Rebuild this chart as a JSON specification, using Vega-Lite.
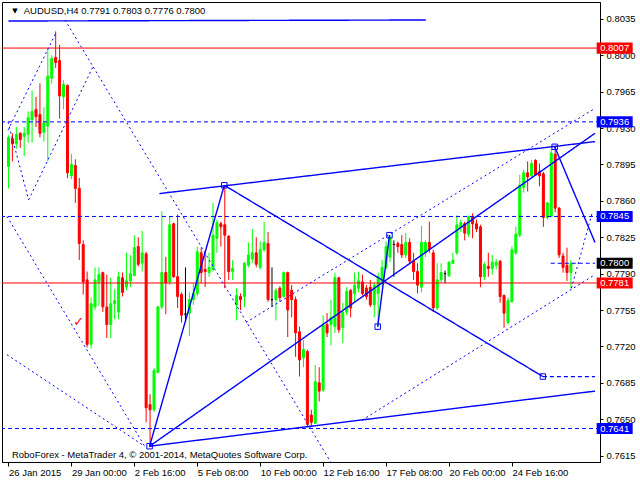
{
"$schema":"https://vega.github.io/schema/vega-lite/v6.json",
"width":598,"height":460,
"autosize":{"type":"none"},
"padding":{"left":2,"top":2,"right":40,"bottom":18},
"background":"#FFFFFF",
"config":{"view":{"stroke":"#000000","strokeWidth":1},"font":"Liberation Sans"},
"resolve":{"axis":{"x":"independent","y":"independent"}},
"datasets":{
"candles":[
{"i":0,"o":0.7893,"h":0.7923,"l":0.7872,"c":0.7921},
{"i":1,"o":0.7920,"h":0.7925,"l":0.7898,"c":0.7915},
{"i":2,"o":0.7915,"h":0.7931,"l":0.7910,"c":0.7924},
{"i":3,"o":0.7925,"h":0.7926,"l":0.7911,"c":0.7919},
{"i":4,"o":0.7922,"h":0.7931,"l":0.7903,"c":0.7925},
{"i":5,"o":0.7924,"h":0.7946,"l":0.7916,"c":0.7940},
{"i":6,"o":0.7938,"h":0.7966,"l":0.7916,"c":0.7946},
{"i":7,"o":0.7948,"h":0.7960,"l":0.7931,"c":0.7941},
{"i":8,"o":0.7943,"h":0.7973,"l":0.7921,"c":0.7925},
{"i":9,"o":0.7926,"h":0.7950,"l":0.7917,"c":0.7935},
{"i":10,"o":0.7932,"h":0.8007,"l":0.7898,"c":0.7980},
{"i":11,"o":0.7978,"h":0.8000,"l":0.7973,"c":0.7997},
{"i":12,"o":0.7998,"h":0.8023,"l":0.7988,"c":0.7993},
{"i":13,"o":0.7995,"h":0.8010,"l":0.7939,"c":0.7961},
{"i":14,"o":0.7960,"h":0.7976,"l":0.7948,"c":0.7972},
{"i":15,"o":0.7971,"h":0.7972,"l":0.7882,"c":0.7887},
{"i":16,"o":0.7884,"h":0.7905,"l":0.7881,"c":0.7895},
{"i":17,"o":0.7894,"h":0.7900,"l":0.7858,"c":0.7872},
{"i":18,"o":0.7872,"h":0.7882,"l":0.7803,"c":0.7819},
{"i":19,"o":0.7818,"h":0.7822,"l":0.7770,"c":0.7782},
{"i":20,"o":0.7784,"h":0.7792,"l":0.7719,"c":0.7722},
{"i":21,"o":0.7722,"h":0.7767,"l":0.7718,"c":0.7761},
{"i":22,"o":0.7758,"h":0.7796,"l":0.7755,"c":0.7784},
{"i":23,"o":0.7782,"h":0.7796,"l":0.7759,"c":0.7789},
{"i":24,"o":0.7791,"h":0.7792,"l":0.7753,"c":0.7758},
{"i":25,"o":0.7758,"h":0.7789,"l":0.7728,"c":0.7741},
{"i":26,"o":0.7741,"h":0.7786,"l":0.7728,"c":0.7761},
{"i":27,"o":0.7761,"h":0.7775,"l":0.7746,"c":0.7764},
{"i":28,"o":0.7753,"h":0.7792,"l":0.7746,"c":0.7787},
{"i":29,"o":0.7786,"h":0.7791,"l":0.7768,"c":0.7772},
{"i":30,"o":0.7777,"h":0.7810,"l":0.7774,"c":0.7783},
{"i":31,"o":0.7783,"h":0.7808,"l":0.7777,"c":0.7790},
{"i":32,"o":0.7788,"h":0.7827,"l":0.7788,"c":0.7815},
{"i":33,"o":0.7816,"h":0.7825,"l":0.7797,"c":0.7799},
{"i":34,"o":0.7800,"h":0.7831,"l":0.7792,"c":0.7810},
{"i":35,"o":0.7809,"h":0.7811,"l":0.7647,"c":0.7661},
{"i":36,"o":0.7664,"h":0.7674,"l":0.7623,"c":0.7659},
{"i":37,"o":0.7659,"h":0.7699,"l":0.7657,"c":0.7697},
{"i":38,"o":0.7695,"h":0.7759,"l":0.7694,"c":0.7758},
{"i":39,"o":0.7758,"h":0.7850,"l":0.7756,"c":0.7791},
{"i":40,"o":0.7791,"h":0.7806,"l":0.7751,"c":0.7781},
{"i":41,"o":0.7782,"h":0.7845,"l":0.7779,"c":0.7837},
{"i":42,"o":0.7838,"h":0.7839,"l":0.7786,"c":0.7787},
{"i":43,"o":0.7787,"h":0.7847,"l":0.7757,"c":0.7768},
{"i":44,"o":0.7770,"h":0.7772,"l":0.7743,"c":0.7750},
{"i":45,"o":0.7751,"h":0.7796,"l":0.7744,"c":0.7751},
{"i":46,"o":0.7752,"h":0.7772,"l":0.7730,"c":0.7765},
{"i":47,"o":0.7765,"h":0.7781,"l":0.7760,"c":0.7771},
{"i":48,"o":0.7771,"h":0.7816,"l":0.7768,"c":0.7811},
{"i":49,"o":0.7810,"h":0.7815,"l":0.7781,"c":0.7791},
{"i":50,"o":0.7794,"h":0.7810,"l":0.7777,"c":0.7792},
{"i":51,"o":0.7791,"h":0.7810,"l":0.7787,"c":0.7796},
{"i":52,"o":0.7794,"h":0.7858,"l":0.7792,"c":0.7827},
{"i":53,"o":0.7824,"h":0.7842,"l":0.7810,"c":0.7839},
{"i":54,"o":0.7838,"h":0.7840,"l":0.7816,"c":0.7835},
{"i":55,"o":0.7837,"h":0.7875,"l":0.7776,"c":0.7827},
{"i":56,"o":0.7826,"h":0.7827,"l":0.7784,"c":0.7792},
{"i":57,"o":0.7792,"h":0.7803,"l":0.7784,"c":0.7795},
{"i":58,"o":0.7760,"h":0.7776,"l":0.7745,"c":0.7769},
{"i":59,"o":0.7768,"h":0.7771,"l":0.7755,"c":0.7765},
{"i":60,"o":0.7768,"h":0.7801,"l":0.7758,"c":0.7800},
{"i":61,"o":0.7798,"h":0.7820,"l":0.7796,"c":0.7808},
{"i":62,"o":0.7804,"h":0.7833,"l":0.7800,"c":0.7810},
{"i":63,"o":0.7810,"h":0.7825,"l":0.7796,"c":0.7799},
{"i":64,"o":0.7796,"h":0.7821,"l":0.7794,"c":0.7813},
{"i":65,"o":0.7813,"h":0.7840,"l":0.7811,"c":0.7820},
{"i":66,"o":0.7819,"h":0.7830,"l":0.7763,"c":0.7765},
{"i":67,"o":0.7765,"h":0.7796,"l":0.7758,"c":0.7765},
{"i":68,"o":0.7765,"h":0.7776,"l":0.7745,"c":0.7774},
{"i":69,"o":0.7776,"h":0.7778,"l":0.7763,"c":0.7767},
{"i":70,"o":0.7768,"h":0.7792,"l":0.7767,"c":0.7791},
{"i":71,"o":0.7791,"h":0.7792,"l":0.7729,"c":0.7755},
{"i":72,"o":0.7774,"h":0.7779,"l":0.7748,"c":0.7765},
{"i":73,"o":0.7765,"h":0.7768,"l":0.7710,"c":0.7733},
{"i":74,"o":0.7734,"h":0.7739,"l":0.7691,"c":0.7707},
{"i":75,"o":0.7709,"h":0.7726,"l":0.7700,"c":0.7717},
{"i":76,"o":0.7715,"h":0.7717,"l":0.7642,"c":0.7645},
{"i":77,"o":0.7654,"h":0.7659,"l":0.7643,"c":0.7647},
{"i":78,"o":0.7646,"h":0.7702,"l":0.7646,"c":0.7686},
{"i":79,"o":0.7685,"h":0.7700,"l":0.7667,"c":0.7677},
{"i":80,"o":0.7678,"h":0.7750,"l":0.7676,"c":0.7741},
{"i":81,"o":0.7741,"h":0.7752,"l":0.7729,"c":0.7733},
{"i":82,"o":0.7741,"h":0.7765,"l":0.7721,"c":0.7748},
{"i":83,"o":0.7739,"h":0.7791,"l":0.7733,"c":0.7786},
{"i":84,"o":0.7786,"h":0.7787,"l":0.7733,"c":0.7736},
{"i":85,"o":0.7738,"h":0.7762,"l":0.7723,"c":0.7753},
{"i":86,"o":0.7753,"h":0.7777,"l":0.7750,"c":0.7773},
{"i":87,"o":0.7774,"h":0.7775,"l":0.7748,"c":0.7757},
{"i":88,"o":0.7771,"h":0.7791,"l":0.7762,"c":0.7779},
{"i":89,"o":0.7776,"h":0.7792,"l":0.7772,"c":0.7783},
{"i":90,"o":0.7782,"h":0.7789,"l":0.7769,"c":0.7771},
{"i":91,"o":0.7776,"h":0.7779,"l":0.7765,"c":0.7768},
{"i":92,"o":0.7777,"h":0.7784,"l":0.7758,"c":0.7760},
{"i":93,"o":0.7760,"h":0.7781,"l":0.7748,"c":0.7779},
{"i":94,"o":0.7771,"h":0.7791,"l":0.7739,"c":0.7787},
{"i":95,"o":0.7781,"h":0.7803,"l":0.7777,"c":0.7796},
{"i":96,"o":0.7796,"h":0.7821,"l":0.7794,"c":0.7816},
{"i":97,"o":0.7806,"h":0.7827,"l":0.7801,"c":0.7825},
{"i":98,"o":0.7818,"h":0.7822,"l":0.7787,"c":0.7818},
{"i":99,"o":0.7819,"h":0.7821,"l":0.7810,"c":0.7816},
{"i":100,"o":0.7818,"h":0.7827,"l":0.7805,"c":0.7808},
{"i":101,"o":0.7808,"h":0.7829,"l":0.7805,"c":0.7820},
{"i":102,"o":0.7820,"h":0.7824,"l":0.7799,"c":0.7802},
{"i":103,"o":0.7802,"h":0.7810,"l":0.7784,"c":0.7792},
{"i":104,"o":0.7792,"h":0.7800,"l":0.7771,"c":0.7779},
{"i":105,"o":0.7777,"h":0.7836,"l":0.7772,"c":0.7820},
{"i":106,"o":0.7810,"h":0.7822,"l":0.7806,"c":0.7820},
{"i":107,"o":0.7820,"h":0.7840,"l":0.7810,"c":0.7813},
{"i":108,"o":0.7810,"h":0.7813,"l":0.7753,"c":0.7757},
{"i":109,"o":0.7757,"h":0.7800,"l":0.7755,"c":0.7784},
{"i":110,"o":0.7784,"h":0.7800,"l":0.7781,"c":0.7791},
{"i":111,"o":0.7790,"h":0.7793,"l":0.7781,"c":0.7790},
{"i":112,"o":0.7788,"h":0.7802,"l":0.7787,"c":0.7801},
{"i":113,"o":0.7800,"h":0.7810,"l":0.7799,"c":0.7803},
{"i":114,"o":0.7810,"h":0.7846,"l":0.7808,"c":0.7837},
{"i":115,"o":0.7834,"h":0.7842,"l":0.7830,"c":0.7839},
{"i":116,"o":0.7838,"h":0.7840,"l":0.7822,"c":0.7829},
{"i":117,"o":0.7828,"h":0.7846,"l":0.7825,"c":0.7845},
{"i":118,"o":0.7845,"h":0.7848,"l":0.7824,"c":0.7838},
{"i":119,"o":0.7838,"h":0.7842,"l":0.7830,"c":0.7833},
{"i":120,"o":0.7835,"h":0.7837,"l":0.7777,"c":0.7787},
{"i":121,"o":0.7787,"h":0.7801,"l":0.7784,"c":0.7799},
{"i":122,"o":0.7797,"h":0.7810,"l":0.7787,"c":0.7795},
{"i":123,"o":0.7795,"h":0.7808,"l":0.7789,"c":0.7801},
{"i":124,"o":0.7798,"h":0.7804,"l":0.7794,"c":0.7801},
{"i":125,"o":0.7802,"h":0.7803,"l":0.7762,"c":0.7768},
{"i":126,"o":0.7769,"h":0.7770,"l":0.7738,"c":0.7752},
{"i":127,"o":0.7743,"h":0.7767,"l":0.7741,"c":0.7764},
{"i":128,"o":0.7763,"h":0.7816,"l":0.7762,"c":0.7813},
{"i":129,"o":0.7810,"h":0.7835,"l":0.7808,"c":0.7828},
{"i":130,"o":0.7827,"h":0.7885,"l":0.7825,"c":0.7875},
{"i":131,"o":0.7873,"h":0.7890,"l":0.7868,"c":0.7887},
{"i":132,"o":0.7887,"h":0.7898,"l":0.7869,"c":0.7883},
{"i":133,"o":0.7884,"h":0.7899,"l":0.7882,"c":0.7896},
{"i":134,"o":0.7899,"h":0.7900,"l":0.7884,"c":0.7885},
{"i":135,"o":0.7888,"h":0.7896,"l":0.7874,"c":0.7884},
{"i":136,"o":0.7886,"h":0.7888,"l":0.7835,"c":0.7844},
{"i":137,"o":0.7844,"h":0.7859,"l":0.7842,"c":0.7858},
{"i":138,"o":0.7845,"h":0.7910,"l":0.7844,"c":0.7906},
{"i":139,"o":0.7905,"h":0.7912,"l":0.7849,"c":0.7853},
{"i":140,"o":0.7853,"h":0.7854,"l":0.7805,"c":0.7808},
{"i":141,"o":0.7807,"h":0.7810,"l":0.7791,"c":0.7796},
{"i":142,"o":0.7798,"h":0.7815,"l":0.7783,"c":0.7791},
{"i":143,"o":0.7791,"h":0.7803,"l":0.7776,"c":0.7800}
],
"levels":[
{"price":0.8007,"kind":"red line"},
{"price":0.7936,"kind":"blue line"},
{"price":0.7845,"kind":"blue line"},
{"price":0.7800,"kind":"bid"},
{"price":0.7781,"kind":"red line"},
{"price":0.7641,"kind":"blue line"}
],
"segments":[
{"id":"top","style":"solid","i":0,"p":0.8033},{"id":"top","style":"solid","i":106.1,"p":0.8034},
{"id":"a","style":"solid","i":35.875,"p":0.7624},{"id":"a","style":"solid","i":54.875,"p":0.7875},
{"id":"b","style":"solid","i":54.875,"p":0.7875},{"id":"b","style":"solid","i":135.875,"p":0.7691},
{"id":"c","style":"solid","i":35.875,"p":0.7624},{"id":"c","style":"solid","i":149.125,"p":0.7677},
{"id":"d","style":"solid","i":35.875,"p":0.7624},{"id":"d","style":"solid","i":149.125,"p":0.7925},
{"id":"f","style":"solid","i":38.375,"p":0.7867},{"id":"f","style":"solid","i":149.125,"p":0.7917},
{"id":"g","style":"solid","i":138.875,"p":0.7912},{"id":"g","style":"solid","i":149.125,"p":0.7820},
{"id":"h","style":"solid","i":93.875,"p":0.7739},{"id":"h","style":"solid","i":96.875,"p":0.7827},
{"id":"bid","style":"dash","i":137.875,"p":0.7800},{"id":"bid","style":"dash","i":149.125,"p":0.7800},
{"id":"tgt","style":"dash","i":135.875,"p":0.7691},{"id":"tgt","style":"dash","i":149.125,"p":0.7691},
{"id":"d1","style":"dot","i":14.375,"p":0.8034},{"id":"d1","style":"dot","i":81.875,"p":0.7609},
{"id":"d2","style":"dot","i":-0.375,"p":0.7845},{"id":"d2","style":"dot","i":34.625,"p":0.7624},
{"id":"d3","style":"dot","i":-0.375,"p":0.7712},{"id":"d3","style":"dot","i":34.625,"p":0.7624},
{"id":"d4","style":"dot","i":-0.125,"p":0.7928},{"id":"d4","style":"dot","i":12.125,"p":0.8022},
{"id":"d5","style":"dot","i":-0.125,"p":0.7936},{"id":"d5","style":"dot","i":5.125,"p":0.7861},
{"id":"d6","style":"dot","i":5.125,"p":0.7861},{"id":"d6","style":"dot","i":21.625,"p":0.7990},
{"id":"d7","style":"dot","i":60.375,"p":0.7743},{"id":"d7","style":"dot","i":149.125,"p":0.7949},
{"id":"d8","style":"dot","i":89.875,"p":0.7649},{"id":"d8","style":"dot","i":149.125,"p":0.7789},
{"id":"d9","style":"dot","i":143.125,"p":0.7776},{"id":"d9","style":"dot","i":148.375,"p":0.7848}
],
"pivots":[
{"i":35.875,"p":0.7624},{"i":54.875,"p":0.7875},{"i":93.875,"p":0.7739},
{"i":96.875,"p":0.7827},{"i":135.875,"p":0.7691},{"i":138.875,"p":0.7912}
]
},
"layer":[
{"data":{"name":"candles"},
 "mark":{"type":"rule","strokeWidth":1},
 "encoding":{
  "x":{"field":"i","type":"quantitative","scale":{"domain":[-0.375,149.125],"nice":false,"zero":false},
   "axis":{"values":[0,16,32,48,64,80,96,112,128],
    "labelExpr":"['26 Jan 2015','29 Jan 00:00','2 Feb 16:00','5 Feb 08:00','10 Feb 00:00','12 Feb 16:00','17 Feb 08:00','20 Feb 00:00','24 Feb 16:00'][round(datum.value/16)]",
    "title":null,"grid":false,"domainColor":"#000000","tickColor":"#000000","tickSize":4,
    "labelAlign":"left","labelBaseline":"top","labelPadding":1,"labelDx":1,"labelFontSize":9.5,
    "labelColor":"#000000","labelFont":"Liberation Sans","labelFlush":false,"labelOverlap":false,"labelBound":false}},
  "y":{"field":"l","type":"quantitative","scale":{"domain":[0.76088,0.80513],"nice":false,"zero":false},
   "axis":{"orient":"right","values":[0.8035,0.8,0.7965,0.793,0.7895,0.786,0.7825,0.779,0.7755,0.772,0.7685,0.765,0.7615],
    "format":".4f","title":null,"grid":false,"domainColor":"#000000","tickColor":"#000000","tickSize":3,
    "labelPadding":3,"labelFontSize":9.5,"labelColor":"#000000","labelFont":"Liberation Sans",
    "labelOverlap":false,"labelBound":false,"labelFlush":false}},
  "y2":{"field":"h"},
  "color":{"condition":[{"test":"datum.c > datum.o","value":"#00FF00"},{"test":"datum.c < datum.o","value":"#FF0000"}],"value":"#000000"}
 }},
{"data":{"name":"candles"},
 "mark":{"type":"bar","size":2,"strokeWidth":1},
 "encoding":{
  "x":{"field":"i","type":"quantitative","scale":{"domain":[-0.375,149.125],"nice":false,"zero":false},"axis":null},
  "y":{"field":"o","type":"quantitative","scale":{"domain":[0.76088,0.80513],"nice":false,"zero":false},"axis":null},
  "y2":{"field":"c"},
  "fill":{"condition":[{"test":"datum.c > datum.o","value":"#00FF00"},{"test":"datum.c < datum.o","value":"#FF0000"}],"value":"#000000"},
  "stroke":{"condition":[{"test":"datum.c > datum.o","value":"#00FF00"},{"test":"datum.c < datum.o","value":"#FF0000"}],"value":"#000000"}
 }},
{"data":{"name":"levels"},
 "transform":[{"filter":"datum.kind == 'red line'"}],
 "mark":{"type":"rule","color":"#FF0000","strokeWidth":1},
 "encoding":{
  "y":{"field":"price","type":"quantitative","scale":{"domain":[0.76088,0.80513],"nice":false,"zero":false},"axis":null}
 }},
{"data":{"name":"levels"},
 "transform":[{"filter":"datum.kind == 'blue line'"}],
 "mark":{"type":"rule","color":"#0000FF","strokeWidth":1,"strokeDash":[4,3]},
 "encoding":{
  "y":{"field":"price","type":"quantitative","scale":{"domain":[0.76088,0.80513],"nice":false,"zero":false},"axis":null}
 }},
{"data":{"name":"segments"},
 "mark":{"type":"line","color":"#0000FF"},
 "encoding":{
  "x":{"field":"i","type":"quantitative","scale":{"domain":[-0.375,149.125],"nice":false,"zero":false},"axis":null},
  "y":{"field":"p","type":"quantitative","scale":{"domain":[0.76088,0.80513],"nice":false,"zero":false},"axis":null},
  "detail":{"field":"id","type":"nominal"},
  "strokeDash":{"field":"style","type":"nominal","scale":{"domain":["solid","dash","dot"],"range":[[1,0],[4,3],[2,3]]},"legend":null},
  "strokeWidth":{"field":"style","type":"nominal","scale":{"domain":["solid","dash","dot"],"range":[1.4,1,1]},"legend":null}
 }},
{"data":{"name":"pivots"},
 "mark":{"type":"point","shape":"square","filled":false,"size":30,"color":"#0000FF","strokeWidth":1,"opacity":1},
 "encoding":{
  "x":{"field":"i","type":"quantitative","scale":{"domain":[-0.375,149.125],"nice":false,"zero":false},"axis":null},
  "y":{"field":"p","type":"quantitative","scale":{"domain":[0.76088,0.80513],"nice":false,"zero":false},"axis":null}
 }},
{"data":{"values":[{}]},
 "mark":{"type":"text","text":"✓","font":"DejaVu Sans","fontSize":13,"color":"#FF0000","align":"center","baseline":"middle"},
 "encoding":{
  "x":{"datum":17.875,"type":"quantitative","scale":{"domain":[-0.375,149.125],"nice":false,"zero":false},"axis":null},
  "y":{"datum":0.7743,"type":"quantitative","scale":{"domain":[0.76088,0.80513],"nice":false,"zero":false},"axis":null}
 }},
{"data":{"name":"levels"},
 "mark":{"type":"point","shape":"M-1,-0.31L1,-0.31L1,0.31L-1,0.31Z","size":1296,"filled":true,"opacity":1,"strokeWidth":0},
 "encoding":{
  "x":{"datum":154.125,"type":"quantitative","scale":{"domain":[-0.375,149.125],"nice":false,"zero":false},"axis":null},
  "y":{"field":"price","type":"quantitative","scale":{"domain":[0.76088,0.80513],"nice":false,"zero":false},"axis":null},
  "color":{"field":"kind","type":"nominal","scale":{"domain":["red line","blue line","bid"],"range":["#FF0000","#0000FF","#000000"]},"legend":null}
 }},
{"data":{"name":"levels"},
 "mark":{"type":"text","color":"#FFFFFF","fontSize":9.5,"font":"Liberation Sans","align":"center","baseline":"middle"},
 "encoding":{
  "x":{"datum":154.125,"type":"quantitative","scale":{"domain":[-0.375,149.125],"nice":false,"zero":false},"axis":null},
  "y":{"field":"price","type":"quantitative","scale":{"domain":[0.76088,0.80513],"nice":false,"zero":false},"axis":null},
  "text":{"field":"price","type":"quantitative","format":".4f"}
 }},
{"data":{"values":[{}]},
 "mark":{"type":"text","text":"▼","font":"DejaVu Sans","fontSize":7,"color":"#000000","align":"center","baseline":"middle"},
 "encoding":{
  "x":{"datum":1.625,"type":"quantitative","scale":{"domain":[-0.375,149.125],"nice":false,"zero":false},"axis":null},
  "y":{"datum":0.8043,"type":"quantitative","scale":{"domain":[0.76088,0.80513],"nice":false,"zero":false},"axis":null}
 }},
{"data":{"values":[{}]},
 "mark":{"type":"text","text":"AUDUSD,H4  0.7791 0.7803 0.7776 0.7800","font":"Liberation Sans","fontSize":9.5,"color":"#000000","align":"left","baseline":"middle"},
 "encoding":{
  "x":{"datum":3.875,"type":"quantitative","scale":{"domain":[-0.375,149.125],"nice":false,"zero":false},"axis":null},
  "y":{"datum":0.8043,"type":"quantitative","scale":{"domain":[0.76088,0.80513],"nice":false,"zero":false},"axis":null}
 }},
{"data":{"values":[{}]},
 "mark":{"type":"text","text":"RoboForex - MetaTrader 4, © 2001-2014, MetaQuotes Software Corp.","font":"Liberation Sans","fontSize":9.5,"color":"#000000","align":"left","baseline":"middle"},
 "encoding":{
  "x":{"datum":0.875,"type":"quantitative","scale":{"domain":[-0.375,149.125],"nice":false,"zero":false},"axis":null},
  "y":{"datum":0.76156,"type":"quantitative","scale":{"domain":[0.76088,0.80513],"nice":false,"zero":false},"axis":null}
 }}
]
}
